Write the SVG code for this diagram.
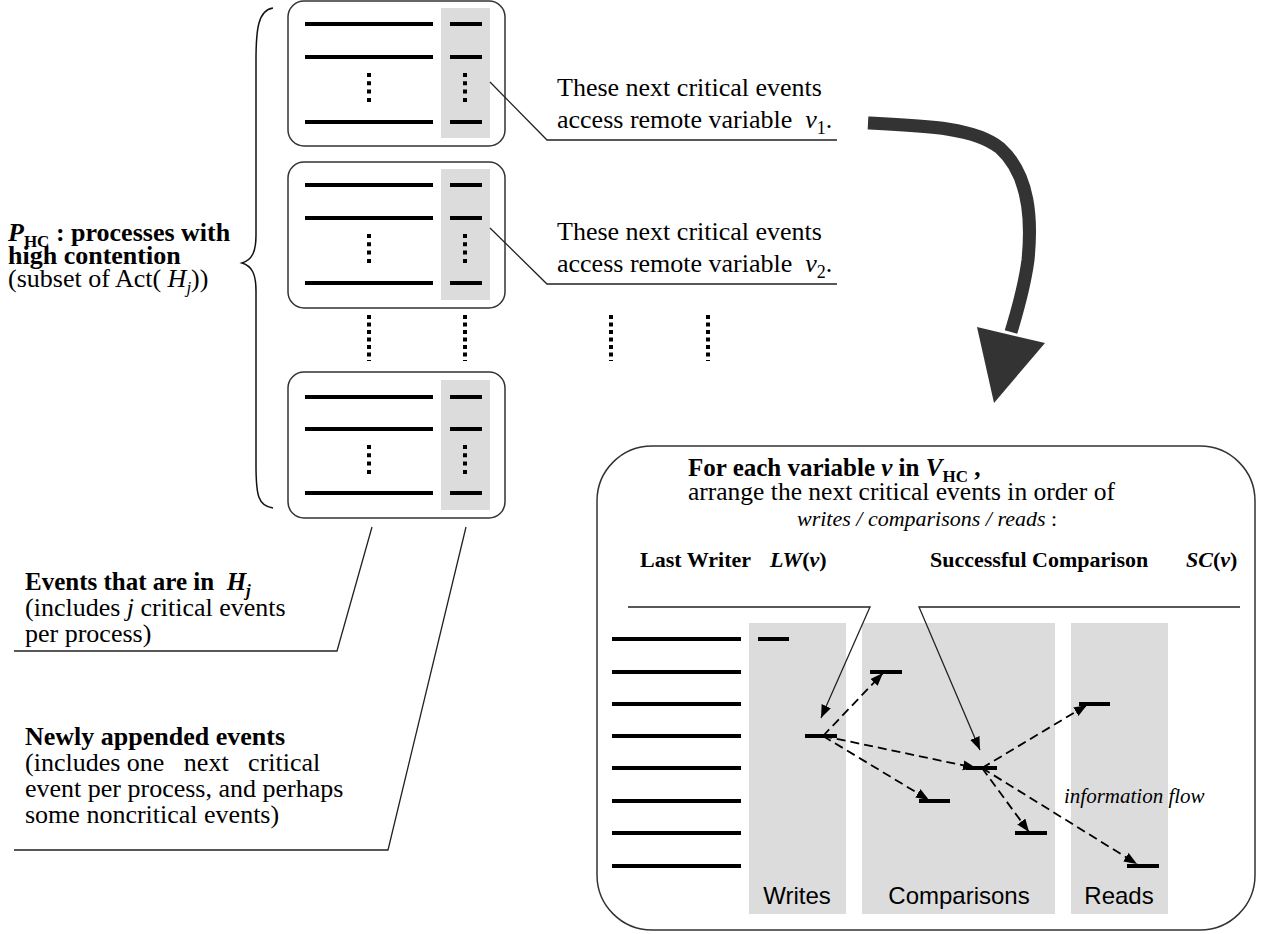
<svg xmlns="http://www.w3.org/2000/svg" width="1265" height="934" viewBox="0 0 1265 934">
<style>
text { font-family: "Liberation Serif", "Times New Roman", serif; fill: #000; }
.b { font-weight: bold; }
.i { font-style: italic; }
.sans { font-family: "Liberation Sans", Arial, sans-serif; }
.box { fill: #fff; stroke: #333; stroke-width: 1.5; }
.gray { fill: #dcdcdc; }
.ev { stroke: #000; stroke-width: 4; }
.dots { stroke: #000; stroke-width: 4; stroke-dasharray: 4 4.3; }
.vdots { stroke: #000; stroke-width: 4; stroke-dasharray: 4 3.5; }
.lead { fill: none; stroke: #222; stroke-width: 1.3; }
.flow { fill: none; stroke: #000; stroke-width: 1.8; stroke-dasharray: 9 5; }
.ptr { fill: none; stroke: #222; stroke-width: 1.3; }
</style>
<defs>
<marker id="head" markerUnits="userSpaceOnUse" markerWidth="14" markerHeight="12" refX="13" refY="5" orient="auto">
<path d="M0,0 L13,5 L0,10 z" fill="#000"/>
</marker>
</defs>

<g id="brace">
<path d="M273,8 C258,10 256,30 256,60 L256,235 C256,252 252,260 242,263 C252,266 256,274 256,291 L256,465 C256,495 258,506 273,508" fill="none" stroke="#111" stroke-width="1.5"/>
</g>

<g id="box1">
<rect class="box" x="288" y="1" width="217" height="145" rx="16"/>
<rect class="gray" x="441" y="8" width="49" height="130"/>
<line class="ev" x1="305" y1="24" x2="433" y2="24"/>
<line class="ev" x1="305" y1="57" x2="433" y2="57"/>
<line class="ev" x1="305" y1="122" x2="433" y2="122"/>
<line class="ev" x1="450" y1="24" x2="482" y2="24"/>
<line class="ev" x1="450" y1="57" x2="482" y2="57"/>
<line class="ev" x1="450" y1="122" x2="482" y2="122"/>
<line class="dots" x1="369" y1="73" x2="369" y2="102"/>
<line class="dots" x1="465" y1="73" x2="465" y2="102"/>
</g>
<g id="box2">
<rect class="box" x="288" y="162" width="217" height="146" rx="16"/>
<rect class="gray" x="441" y="169" width="49" height="131"/>
<line class="ev" x1="305" y1="185" x2="433" y2="185"/>
<line class="ev" x1="305" y1="218" x2="433" y2="218"/>
<line class="ev" x1="305" y1="283" x2="433" y2="283"/>
<line class="ev" x1="450" y1="185" x2="482" y2="185"/>
<line class="ev" x1="450" y1="218" x2="482" y2="218"/>
<line class="ev" x1="450" y1="283" x2="482" y2="283"/>
<line class="dots" x1="369" y1="234" x2="369" y2="263"/>
<line class="dots" x1="465" y1="234" x2="465" y2="263"/>
</g>
<g id="box3">
<rect class="box" x="288" y="372" width="217" height="146" rx="16"/>
<rect class="gray" x="441" y="380" width="49" height="130"/>
<line class="ev" x1="305" y1="397" x2="433" y2="397"/>
<line class="ev" x1="305" y1="429" x2="433" y2="429"/>
<line class="ev" x1="305" y1="493" x2="433" y2="493"/>
<line class="ev" x1="450" y1="397" x2="482" y2="397"/>
<line class="ev" x1="450" y1="429" x2="482" y2="429"/>
<line class="ev" x1="450" y1="493" x2="482" y2="493"/>
<line class="dots" x1="369" y1="445" x2="369" y2="474"/>
<line class="dots" x1="465" y1="445" x2="465" y2="474"/>
</g>
<g id="ellipsis">
<line class="vdots" x1="369" y1="315" x2="369" y2="361"/>
<line class="vdots" x1="465" y1="315" x2="465" y2="361"/>
<line class="vdots" x1="611" y1="315" x2="611" y2="361"/>
<line class="vdots" x1="708" y1="315" x2="708" y2="361"/>
</g>

<g id="label-phc">
<text class="b" x="8" y="241" font-size="26"><tspan class="i">P</tspan><tspan font-size="17" dy="6">HC</tspan><tspan dy="-6" xml:space="preserve"> : processes with</tspan></text>
<text class="b" x="8" y="264" font-size="26">high contention</text>
<text x="8" y="287" font-size="26" xml:space="preserve">(subset of Act( <tspan class="i">H</tspan><tspan class="i" font-size="17" dy="6">j</tspan><tspan dy="-6">))</tspan></text>
</g>
<g id="label-events">
<text class="b" x="25" y="590" font-size="25" xml:space="preserve">Events that are in  <tspan class="i">H</tspan><tspan class="i" font-size="17" dy="6">j</tspan></text>
<text x="25" y="616" font-size="26" xml:space="preserve">(includes <tspan class="i">j</tspan> critical events</text>
<text x="25" y="642" font-size="26">per process)</text>
</g>
<g id="label-newly">
<text class="b" x="25" y="745" font-size="26">Newly appended events</text>
<text x="25" y="771" font-size="26" xml:space="preserve">(includes one   next   critical</text>
<text x="25" y="797" font-size="26">event per process, and perhaps</text>
<text x="25" y="823" font-size="26">some noncritical events)</text>
</g>

<g id="label-v1">
<text x="557" y="96" font-size="26">These next critical events</text>
<text x="557" y="128" font-size="26" xml:space="preserve">access remote variable  <tspan class="i">v</tspan><tspan font-size="18" dy="6">1</tspan><tspan dy="-6">.</tspan></text>
</g>
<g id="label-v2">
<text x="557" y="240" font-size="26">These next critical events</text>
<text x="557" y="272" font-size="26" xml:space="preserve">access remote variable  <tspan class="i">v</tspan><tspan font-size="18" dy="6">2</tspan><tspan dy="-6">.</tspan></text>
</g>

<g id="big-arrow">
<path d="M868,123 C930,126 975,128 1000,148 C1030,175 1032,220 1028,260 C1024,290 1016,315 1011,332" fill="none" stroke="#333" stroke-width="13"/>
<polygon points="977,327 1045,343 994,403" fill="#333"/>
</g>

<g id="panel">
<rect class="box" x="597" y="446" width="658" height="484" rx="55"/>
<rect class="gray" x="749" y="623" width="97" height="291"/>
<rect class="gray" x="862" y="623" width="193" height="291"/>
<rect class="gray" x="1071" y="623" width="97" height="291"/>
<text class="b" x="688" y="476" font-size="25" xml:space="preserve">For each variable <tspan class="i">v</tspan> in <tspan class="i">V</tspan><tspan font-size="17" dy="6">HC</tspan><tspan dy="-6"> ,</tspan></text>
<text x="688" y="500" font-size="25.5">arrange the next critical events in order of</text>
<text class="i" x="797" y="526" font-size="22" xml:space="preserve">writes / comparisons / reads <tspan font-style="normal">:</tspan></text>
<text class="b" x="640" y="567" font-size="22">Last Writer</text>
<text class="b" x="770" y="567" font-size="22"><tspan class="i">LW</tspan>(<tspan class="i">v</tspan>)</text>
<text class="b" x="930" y="567" font-size="22">Successful Comparison</text>
<text class="b" x="1186" y="567" font-size="22"><tspan class="i">SC</tspan>(<tspan class="i">v</tspan>)</text>
<text class="sans" x="797" y="904" font-size="24" text-anchor="middle">Writes</text>
<text class="sans" x="959" y="904" font-size="24" text-anchor="middle">Comparisons</text>
<text class="sans" x="1119" y="904" font-size="24" text-anchor="middle">Reads</text>
<text class="i" x="1064" y="803" font-size="21">information flow</text>
<g id="rows">
<line class="ev" x1="612" y1="639" x2="741" y2="639"/>
<line class="ev" x1="612" y1="672" x2="741" y2="672"/>
<line class="ev" x1="612" y1="704" x2="741" y2="704"/>
<line class="ev" x1="612" y1="736" x2="741" y2="736"/>
<line class="ev" x1="612" y1="768" x2="741" y2="768"/>
<line class="ev" x1="612" y1="801" x2="741" y2="801"/>
<line class="ev" x1="612" y1="833" x2="741" y2="833"/>
<line class="ev" x1="612" y1="866" x2="741" y2="866"/>
</g>
<g id="events">
<line class="ev" x1="758" y1="639" x2="789" y2="639"/>
<line class="ev" x1="870" y1="672" x2="902" y2="672"/>
<line class="ev" x1="1079" y1="704" x2="1110" y2="704"/>
<line class="ev" x1="805" y1="736" x2="837" y2="736"/>
<line class="ev" x1="966" y1="768" x2="997" y2="768"/>
<line class="ev" x1="919" y1="801" x2="950" y2="801"/>
<line class="ev" x1="1015" y1="833" x2="1047" y2="833"/>
<line class="ev" x1="1127" y1="866" x2="1159" y2="866"/>
</g>
</g>

<g id="connectors">
<path class="lead" d="M490,82 L547,140 L837,140"/>
<path class="lead" d="M490,228 L547,284 L837,284"/>
<path class="lead" d="M14,651 L337,651 L372,527"/>
<path class="lead" d="M14,850 L388,850 L466,527"/>
<path class="ptr" d="M628,607 L870,607 L821,718" marker-end="url(#head)"/>
<path class="ptr" d="M1240,607 L919,607 L980,750" marker-end="url(#head)"/>
<line class="flow" x1="823" y1="736" x2="883" y2="673" marker-end="url(#head)"/>
<line class="flow" x1="823" y1="736" x2="976" y2="768" marker-end="url(#head)"/>
<line class="flow" x1="823" y1="736" x2="929" y2="800" marker-end="url(#head)"/>
<line class="flow" x1="982" y1="768" x2="1087" y2="705" marker-end="url(#head)"/>
<line class="flow" x1="982" y1="768" x2="1029" y2="832" marker-end="url(#head)"/>
<line class="flow" x1="982" y1="768" x2="1137" y2="864" marker-end="url(#head)"/>
</g>
</svg>
